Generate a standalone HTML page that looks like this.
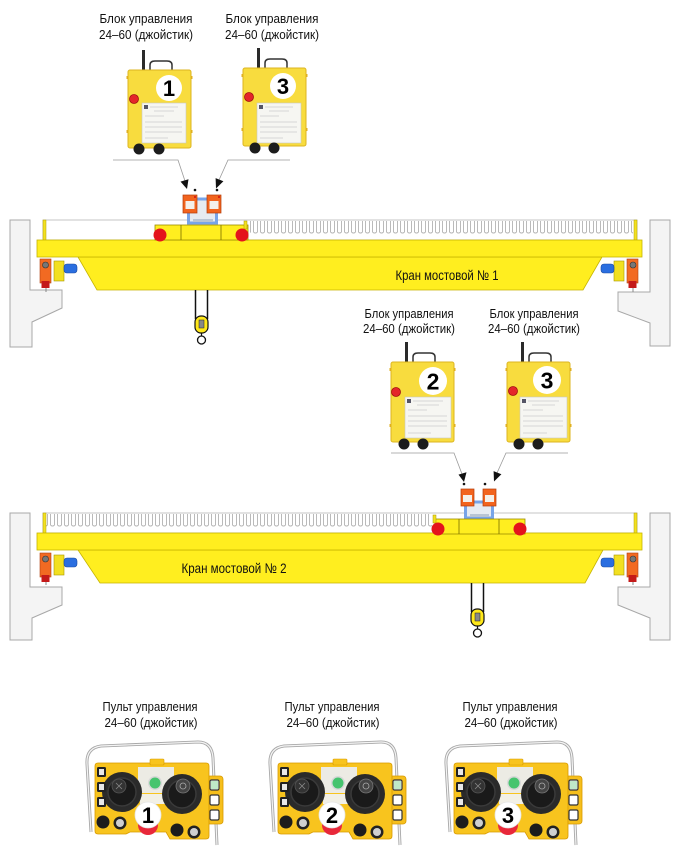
<!DOCTYPE html>
<html><head><meta charset="utf-8">
<style>
html,body{margin:0;padding:0;background:#fff;}
svg{display:block;}
text{font-family:"Liberation Sans Narrow","Liberation Sans","DejaVu Sans Condensed",sans-serif;}
.lbl{font-size:13px;fill:#111;}
.num{font-family:"Liberation Sans",sans-serif;font-weight:bold;fill:#000;}
</style></head><body>
<svg width="680" height="860" viewBox="0 0 680 860" xmlns="http://www.w3.org/2000/svg">
<defs>
<pattern id="comb" patternUnits="userSpaceOnUse" x="0" y="0" width="7" height="20">
  <path d="M1.5,1 V11 Q1.5,13 3.2,13 H3.8 Q5.5,13 5.5,11 V1" fill="none" stroke="#9c9c9c" stroke-width="0.7"/>
</pattern>
</defs>

<!-- ============ TOP LABELS ============ -->
<text class="lbl" x="146" y="23" text-anchor="middle" textLength="93" lengthAdjust="spacingAndGlyphs">Блок управления</text>
<text class="lbl" x="146" y="39" text-anchor="middle" textLength="94" lengthAdjust="spacingAndGlyphs">24–60 (джойстик)</text>
<text class="lbl" x="272" y="23" text-anchor="middle" textLength="93" lengthAdjust="spacingAndGlyphs">Блок управления</text>
<text class="lbl" x="272" y="39" text-anchor="middle" textLength="94" lengthAdjust="spacingAndGlyphs">24–60 (джойстик)</text>

<!-- ============ BOX 1 ============ -->
<g transform="translate(128,70)">
  <rect x="14" y="-20" width="3" height="20" fill="#2a2a2a"/>
  <path d="M22,0 V-5 Q22,-9 27,-9 H39 Q44,-9 44,-5 V0" fill="none" stroke="#333" stroke-width="1.5"/>
  <rect x="0" y="0" width="63" height="78" rx="2" fill="#f8dc3e" stroke="#dcb520" stroke-width="1"/>
  <rect x="-1.5" y="6" width="2" height="3" fill="#e0b020"/><rect x="-1.5" y="60" width="2" height="3" fill="#e0b020"/>
  <rect x="62.5" y="6" width="2" height="3" fill="#e0b020"/><rect x="62.5" y="60" width="2" height="3" fill="#e0b020"/>
  <circle cx="41" cy="18" r="13" fill="#fff"/>
  <text class="num" x="41" y="26" font-size="22" text-anchor="middle">1</text>
  <circle cx="6" cy="29" r="4.5" fill="#e4262a" stroke="#a01010" stroke-width="0.8"/>
  <rect x="14" y="33" width="44" height="40" fill="#f6f6f2" stroke="#c8c8c0" stroke-width="0.6"/>
  <rect x="16" y="35" width="4" height="4" fill="#556"/>
  <g stroke="#b8b8b8" stroke-width="0.6"><line x1="22" y1="37" x2="50" y2="37"/><line x1="26" y1="41" x2="46" y2="41"/><line x1="17" y1="46" x2="36" y2="46"/><line x1="17" y1="52" x2="54" y2="52"/><line x1="17" y1="57" x2="54" y2="57"/><line x1="17" y1="62" x2="54" y2="62"/><line x1="17" y1="68" x2="40" y2="68"/></g>
  <circle cx="11" cy="79" r="5.5" fill="#1c1c1c"/><circle cx="31" cy="79" r="5.5" fill="#1c1c1c"/>
</g>

<!-- ============ BOX 3 (top) ============ -->
<g transform="translate(243,68)">
  <rect x="14" y="-20" width="3" height="20" fill="#2a2a2a"/>
  <path d="M22,0 V-5 Q22,-9 27,-9 H39 Q44,-9 44,-5 V0" fill="none" stroke="#333" stroke-width="1.5"/>
  <rect x="0" y="0" width="63" height="78" rx="2" fill="#f8dc3e" stroke="#dcb520" stroke-width="1"/>
  <rect x="-1.5" y="6" width="2" height="3" fill="#e0b020"/><rect x="-1.5" y="60" width="2" height="3" fill="#e0b020"/>
  <rect x="62.5" y="6" width="2" height="3" fill="#e0b020"/><rect x="62.5" y="60" width="2" height="3" fill="#e0b020"/>
  <circle cx="40" cy="18" r="13" fill="#fff"/>
  <text class="num" x="40" y="26" font-size="22" text-anchor="middle">3</text>
  <circle cx="6" cy="29" r="4.5" fill="#e4262a" stroke="#a01010" stroke-width="0.8"/>
  <rect x="14" y="35" width="44" height="40" fill="#f6f6f2" stroke="#c8c8c0" stroke-width="0.6"/>
  <rect x="16" y="37" width="4" height="4" fill="#556"/>
  <g stroke="#b8b8b8" stroke-width="0.6"><line x1="22" y1="39" x2="50" y2="39"/><line x1="26" y1="43" x2="46" y2="43"/><line x1="17" y1="48" x2="36" y2="48"/><line x1="17" y1="54" x2="54" y2="54"/><line x1="17" y1="59" x2="54" y2="59"/><line x1="17" y1="64" x2="54" y2="64"/><line x1="17" y1="70" x2="40" y2="70"/></g>
  <circle cx="12" cy="80" r="5.5" fill="#1c1c1c"/><circle cx="31" cy="80" r="5.5" fill="#1c1c1c"/>
</g>

<!-- ============ CRANE 1 STRUCTURE ============ -->
<g>
  <path d="M10,220 H30 V290 H62 V308 L32,322 V347 H10 Z" fill="#f4f4f4" stroke="#a8a8a8" stroke-width="1"/>
  <path d="M670,220 H650 V292 H618 V311 L650,323 V346 H670 Z" fill="#f4f4f4" stroke="#a8a8a8" stroke-width="1"/>
  <rect x="43" y="220" width="594" height="20" fill="#fff" stroke="#b8b8b8" stroke-width="0.8"/>
  <rect x="250" y="220" width="383" height="20" fill="url(#comb)"/>
  <rect x="43" y="220" width="3" height="20" fill="#f2e020" stroke="#b0a000" stroke-width="0.5"/>
  <rect x="634" y="220" width="3" height="20" fill="#f2e020" stroke="#b0a000" stroke-width="0.5"/>
  <path d="M78,257 H602 L583,290 H97 Z" fill="#ffee1f" stroke="#c6b400" stroke-width="0.8"/>
  <rect x="37" y="240" width="605" height="17" fill="#ffee1f" stroke="#c6b400" stroke-width="0.8"/>
  <!-- left drive -->
  <line x1="46" y1="287" x2="46" y2="292" stroke="#888" stroke-width="1"/>
  <rect x="54" y="261" width="10" height="20" fill="#f2e020" stroke="#a89800" stroke-width="0.6"/>
  <rect x="64" y="264" width="13" height="9" rx="3" fill="#2a6ee0" stroke="#1a4aa0" stroke-width="0.6"/>
  <rect x="40" y="259" width="11" height="24" fill="#f26a22" stroke="#b04010" stroke-width="0.6"/>
  <rect x="41.5" y="281" width="8" height="7" fill="#c41a1a"/>
  <circle cx="45.5" cy="265" r="3" fill="#777" stroke="#333" stroke-width="0.6"/>
  <!-- right drive -->
  <line x1="633" y1="287" x2="633" y2="292" stroke="#888" stroke-width="1"/>
  <rect x="614" y="261" width="10" height="20" fill="#f2e020" stroke="#a89800" stroke-width="0.6"/>
  <rect x="601" y="264" width="13" height="9" rx="3" fill="#2a6ee0" stroke="#1a4aa0" stroke-width="0.6"/>
  <rect x="627" y="259" width="11" height="24" fill="#f26a22" stroke="#b04010" stroke-width="0.6"/>
  <rect x="628.5" y="281" width="8" height="7" fill="#c41a1a"/>
  <circle cx="633" cy="265" r="3" fill="#777" stroke="#333" stroke-width="0.6"/>
  <text x="447" y="280" text-anchor="middle" font-size="14" fill="#111" textLength="103" lengthAdjust="spacingAndGlyphs">Кран мостовой № 1</text>
</g>

<!-- ============ CRANE 1 TROLLEY + LEADERS ============ -->
<g>
  <!-- leaders -->
  <path d="M113,160 H178 L185,181" fill="none" stroke="#9a9a9a" stroke-width="0.8"/>
  <polygon points="180.5,181.6 188.5,179.2 187,189" fill="#111"/>
  <path d="M290,160 H228 L219,180" fill="none" stroke="#9a9a9a" stroke-width="0.8"/>
  <polygon points="215.6,178.1 223.4,181.3 216,188.5" fill="#111"/>
  <circle cx="195" cy="190" r="1.3" fill="#111"/>
  <circle cx="217" cy="190" r="1.3" fill="#111"/>
  <!-- hoist frame -->
  <rect x="188.5" y="199" width="28" height="24" fill="#e6ebf2" stroke="#78a4e8" stroke-width="3"/>
  <rect x="193" y="219" width="20" height="3" fill="#b8c4d4"/>
  <!-- orange boxes -->
  <rect x="183" y="195" width="14" height="18" fill="#f2641e" stroke="#b23a08" stroke-width="0.7"/>
  <rect x="185.5" y="201" width="9" height="8" fill="#f4f0ea"/>
  <circle cx="195" cy="197" r="1" fill="#d01010"/>
  <rect x="207" y="195" width="14" height="18" fill="#f2641e" stroke="#b23a08" stroke-width="0.7"/>
  <rect x="209.5" y="201" width="9" height="8" fill="#f4f0ea"/>
  <circle cx="219" cy="197" r="1" fill="#d01010"/>
  <!-- trolley -->
  <rect x="155" y="225" width="93" height="15" fill="#ffee1f" stroke="#9c8c00" stroke-width="0.8"/>
  <line x1="181" y1="225" x2="181" y2="240" stroke="#7a6e00" stroke-width="0.8"/>
  <line x1="221" y1="225" x2="221" y2="240" stroke="#7a6e00" stroke-width="0.8"/>
  <rect x="244" y="221" width="3" height="8" fill="#f2e020" stroke="#a89800" stroke-width="0.5"/>
  <circle cx="160" cy="235" r="6.5" fill="#e4141c"/>
  <circle cx="242" cy="235" r="6.5" fill="#e4141c"/>
  <!-- hook -->
  <line x1="195.5" y1="290" x2="195.5" y2="319" stroke="#111" stroke-width="1.5"/>
  <line x1="207.5" y1="290" x2="207.5" y2="319" stroke="#111" stroke-width="1.5"/>
  <rect x="195" y="316" width="13" height="17" rx="6" fill="#ffe81a" stroke="#111" stroke-width="1.2"/>
  <rect x="199" y="320" width="5" height="8" fill="#888" stroke="#222" stroke-width="0.5"/>
  <line x1="201.5" y1="333" x2="201.5" y2="336" stroke="#111" stroke-width="1.2"/>
  <circle cx="201.5" cy="340" r="4" fill="none" stroke="#111" stroke-width="1.3"/>
</g>

<!-- ============ CRANE 2 LABELS ============ -->
<text class="lbl" x="409" y="318" text-anchor="middle" textLength="89" lengthAdjust="spacingAndGlyphs">Блок управления</text>
<text class="lbl" x="409" y="333" text-anchor="middle" textLength="92" lengthAdjust="spacingAndGlyphs">24–60 (джойстик)</text>
<text class="lbl" x="534" y="318" text-anchor="middle" textLength="89" lengthAdjust="spacingAndGlyphs">Блок управления</text>
<text class="lbl" x="534" y="333" text-anchor="middle" textLength="92" lengthAdjust="spacingAndGlyphs">24–60 (джойстик)</text>

<!-- ============ BOX 2 ============ -->
<g transform="translate(391,362)">
  <rect x="14" y="-20" width="3" height="20" fill="#2a2a2a"/>
  <path d="M22,0 V-5 Q22,-9 27,-9 H39 Q44,-9 44,-5 V0" fill="none" stroke="#333" stroke-width="1.5"/>
  <rect x="0" y="0" width="63" height="80" rx="2" fill="#f8dc3e" stroke="#dcb520" stroke-width="1"/>
  <rect x="-1.5" y="6" width="2" height="3" fill="#e0b020"/><rect x="-1.5" y="62" width="2" height="3" fill="#e0b020"/>
  <rect x="62.5" y="6" width="2" height="3" fill="#e0b020"/><rect x="62.5" y="62" width="2" height="3" fill="#e0b020"/>
  <circle cx="42" cy="19" r="14" fill="#fff"/>
  <text class="num" x="42" y="27.5" font-size="23" text-anchor="middle">2</text>
  <circle cx="5" cy="30" r="4.5" fill="#e4262a" stroke="#a01010" stroke-width="0.8"/>
  <rect x="14" y="35" width="46" height="41" fill="#f6f6f2" stroke="#c8c8c0" stroke-width="0.6"/>
  <rect x="16" y="37" width="4" height="4" fill="#556"/>
  <g stroke="#b8b8b8" stroke-width="0.6"><line x1="22" y1="39" x2="52" y2="39"/><line x1="26" y1="43" x2="48" y2="43"/><line x1="17" y1="48" x2="36" y2="48"/><line x1="17" y1="54" x2="56" y2="54"/><line x1="17" y1="59" x2="56" y2="59"/><line x1="17" y1="64" x2="56" y2="64"/><line x1="17" y1="71" x2="40" y2="71"/></g>
  <circle cx="13" cy="82" r="5.5" fill="#1c1c1c"/><circle cx="32" cy="82" r="5.5" fill="#1c1c1c"/>
</g>

<!-- ============ BOX 3 (second) ============ -->
<g transform="translate(507,362)">
  <rect x="14" y="-20" width="3" height="20" fill="#2a2a2a"/>
  <path d="M22,0 V-5 Q22,-9 27,-9 H39 Q44,-9 44,-5 V0" fill="none" stroke="#333" stroke-width="1.5"/>
  <rect x="0" y="0" width="63" height="80" rx="2" fill="#f8dc3e" stroke="#dcb520" stroke-width="1"/>
  <rect x="-1.5" y="6" width="2" height="3" fill="#e0b020"/><rect x="-1.5" y="62" width="2" height="3" fill="#e0b020"/>
  <rect x="62.5" y="6" width="2" height="3" fill="#e0b020"/><rect x="62.5" y="62" width="2" height="3" fill="#e0b020"/>
  <circle cx="40" cy="18" r="14" fill="#fff"/>
  <text class="num" x="40" y="26.5" font-size="23" text-anchor="middle">3</text>
  <circle cx="6" cy="29" r="4.5" fill="#e4262a" stroke="#a01010" stroke-width="0.8"/>
  <rect x="13" y="35" width="47" height="41" fill="#f6f6f2" stroke="#c8c8c0" stroke-width="0.6"/>
  <rect x="15" y="37" width="4" height="4" fill="#556"/>
  <g stroke="#b8b8b8" stroke-width="0.6"><line x1="21" y1="39" x2="52" y2="39"/><line x1="25" y1="43" x2="48" y2="43"/><line x1="16" y1="48" x2="36" y2="48"/><line x1="16" y1="54" x2="56" y2="54"/><line x1="16" y1="59" x2="56" y2="59"/><line x1="16" y1="64" x2="56" y2="64"/><line x1="16" y1="71" x2="40" y2="71"/></g>
  <circle cx="12" cy="82" r="5.5" fill="#1c1c1c"/><circle cx="31" cy="82" r="5.5" fill="#1c1c1c"/>
</g>

<!-- ============ CRANE 2 STRUCTURE ============ -->
<g transform="translate(0,293)">
  <path d="M10,220 H30 V294 H62 V312 L32,325 V347 H10 Z" fill="#f4f4f4" stroke="#a8a8a8" stroke-width="1"/>
  <path d="M670,220 H650 V294 H618 V312 L650,325 V347 H670 Z" fill="#f4f4f4" stroke="#a8a8a8" stroke-width="1"/>
  <rect x="43" y="220" width="594" height="20" fill="#fff" stroke="#b8b8b8" stroke-width="0.8"/>
  <rect x="46" y="220" width="386" height="20" fill="url(#comb)"/>
  <rect x="43" y="220" width="3" height="20" fill="#f2e020" stroke="#b0a000" stroke-width="0.5"/>
  <rect x="634" y="220" width="3" height="20" fill="#f2e020" stroke="#b0a000" stroke-width="0.5"/>
  <path d="M78,257 H603 L585,290 H100 Z" fill="#ffee1f" stroke="#c6b400" stroke-width="0.8"/>
  <rect x="37" y="240" width="605" height="17" fill="#ffee1f" stroke="#c6b400" stroke-width="0.8"/>
  <line x1="46" y1="287" x2="46" y2="292" stroke="#888" stroke-width="1"/>
  <rect x="54" y="262" width="10" height="20" fill="#f2e020" stroke="#a89800" stroke-width="0.6"/>
  <rect x="64" y="265" width="13" height="9" rx="3" fill="#2a6ee0" stroke="#1a4aa0" stroke-width="0.6"/>
  <rect x="40" y="260" width="11" height="24" fill="#f26a22" stroke="#b04010" stroke-width="0.6"/>
  <rect x="41.5" y="282" width="8" height="7" fill="#c41a1a"/>
  <circle cx="45.5" cy="266" r="3" fill="#777" stroke="#333" stroke-width="0.6"/>
  <line x1="633" y1="287" x2="633" y2="292" stroke="#888" stroke-width="1"/>
  <rect x="614" y="262" width="10" height="20" fill="#f2e020" stroke="#a89800" stroke-width="0.6"/>
  <rect x="601" y="265" width="13" height="9" rx="3" fill="#2a6ee0" stroke="#1a4aa0" stroke-width="0.6"/>
  <rect x="627" y="260" width="11" height="24" fill="#f26a22" stroke="#b04010" stroke-width="0.6"/>
  <rect x="628.5" y="282" width="8" height="7" fill="#c41a1a"/>
  <circle cx="633" cy="266" r="3" fill="#777" stroke="#333" stroke-width="0.6"/>
  <text x="234" y="280" text-anchor="middle" font-size="14" fill="#111" textLength="105" lengthAdjust="spacingAndGlyphs">Кран мостовой № 2</text>
</g>

<!-- ============ CRANE 2 TROLLEY + LEADERS ============ -->
<g transform="translate(278,293)">
  <path d="M113,160 H176 L184,181" fill="none" stroke="#9a9a9a" stroke-width="0.8"/>
  <polygon points="180.5,181.6 188.5,179.2 186,189" fill="#111"/>
  <path d="M290,160 H228 L219,180" fill="none" stroke="#9a9a9a" stroke-width="0.8"/>
  <polygon points="215.6,178.1 223.4,181.3 216,188.5" fill="#111"/>
  <circle cx="186" cy="191" r="1.3" fill="#111"/>
  <circle cx="207" cy="191" r="1.3" fill="#111"/>
  <rect x="187.5" y="209" width="27" height="16" fill="#e6ebf2" stroke="#78a4e8" stroke-width="3"/>
  <rect x="192" y="221" width="19" height="3" fill="#b8c4d4"/>
  <rect x="183" y="196" width="13" height="17" fill="#f2641e" stroke="#b23a08" stroke-width="0.7"/>
  <rect x="185" y="202" width="9" height="7" fill="#f4f0ea"/>
  <rect x="205" y="196" width="13" height="17" fill="#f2641e" stroke="#b23a08" stroke-width="0.7"/>
  <rect x="207" y="202" width="9" height="7" fill="#f4f0ea"/>
  <rect x="157" y="226" width="90" height="15" fill="#ffee1f" stroke="#9c8c00" stroke-width="0.8"/>
  <line x1="181" y1="226" x2="181" y2="241" stroke="#7a6e00" stroke-width="0.8"/>
  <line x1="221" y1="226" x2="221" y2="241" stroke="#7a6e00" stroke-width="0.8"/>
  <rect x="155" y="222" width="3" height="8" fill="#f2e020" stroke="#a89800" stroke-width="0.5"/>
  <circle cx="160" cy="236" r="6.5" fill="#e4141c"/>
  <circle cx="242" cy="236" r="6.5" fill="#e4141c"/>
  <line x1="193.5" y1="290" x2="193.5" y2="319" stroke="#111" stroke-width="1.5"/>
  <line x1="205.5" y1="290" x2="205.5" y2="319" stroke="#111" stroke-width="1.5"/>
  <rect x="193" y="316" width="13" height="17" rx="6" fill="#ffe81a" stroke="#111" stroke-width="1.2"/>
  <rect x="197" y="320" width="5" height="8" fill="#888" stroke="#222" stroke-width="0.5"/>
  <line x1="199.5" y1="333" x2="199.5" y2="336" stroke="#111" stroke-width="1.2"/>
  <circle cx="199.5" cy="340" r="4" fill="none" stroke="#111" stroke-width="1.3"/>
</g>

<!-- ============ PENDANT LABELS ============ -->
<text class="lbl" x="150" y="711" text-anchor="middle" textLength="95" lengthAdjust="spacingAndGlyphs">Пульт управления</text>
<text class="lbl" x="151" y="727" text-anchor="middle" textLength="93" lengthAdjust="spacingAndGlyphs">24–60 (джойстик)</text>
<text class="lbl" x="332" y="711" text-anchor="middle" textLength="95" lengthAdjust="spacingAndGlyphs">Пульт управления</text>
<text class="lbl" x="333" y="727" text-anchor="middle" textLength="93" lengthAdjust="spacingAndGlyphs">24–60 (джойстик)</text>
<text class="lbl" x="510" y="711" text-anchor="middle" textLength="95" lengthAdjust="spacingAndGlyphs">Пульт управления</text>
<text class="lbl" x="511" y="727" text-anchor="middle" textLength="93" lengthAdjust="spacingAndGlyphs">24–60 (джойстик)</text>

<!-- ============ PENDANT 1 ============ -->
<g id="p1">
  <path d="M91,832 L87,764 Q86,748 101,746 L198,742 Q212,742 213,758 L217,845" fill="none" stroke="#a8a8a8" stroke-width="3"/>
  <path d="M91,832 L87,764 Q86,748 101,746 L198,742 Q212,742 213,758 L217,845" fill="none" stroke="#f4f4f4" stroke-width="1.2"/>
  <rect x="205" y="776" width="18" height="48" rx="3" fill="#f6bf1c" stroke="#d89a00" stroke-width="0.8"/>
  <path d="M98,763 H206 Q209,763 209,766 V836 Q209,839 206,839 H170 L166,832 H130 L126,834 H98 Q95,834 95,831 V766 Q95,763 98,763 Z" fill="#f8c41e" stroke="#d89a00" stroke-width="0.8"/>
  <rect x="150" y="759" width="14" height="6" rx="1" fill="#f8c41e" stroke="#d89a00" stroke-width="0.6"/>
  <rect x="138" y="767" width="36" height="26" fill="#ecebe4"/>
  <rect x="140" y="794" width="30" height="10" fill="#f2f0e6"/>
  <circle cx="122" cy="792" r="20" fill="#2a2a2a"/>
  <circle cx="122" cy="792" r="14" fill="#1a1a1a" stroke="#3a3a3a" stroke-width="1.5"/>
  <circle cx="119" cy="786" r="7" fill="#333" stroke="#555" stroke-width="0.8"/>
  <path d="M116,783 L122,789 M122,783 L116,789" stroke="#888" stroke-width="0.8"/>
  <circle cx="182" cy="794" r="20" fill="#2a2a2a"/>
  <circle cx="182" cy="794" r="14" fill="#1a1a1a" stroke="#3a3a3a" stroke-width="1.5"/>
  <circle cx="183" cy="786" r="7" fill="#444" stroke="#777" stroke-width="0.8"/>
  <circle cx="183" cy="786" r="3" fill="none" stroke="#aaa" stroke-width="0.8"/>
  <circle cx="155" cy="783" r="7" fill="#d8d8d8"/>
  <circle cx="155" cy="783" r="5.5" fill="#46c46e"/>
  <g fill="#222"><rect x="97" y="767" width="9" height="10" rx="1.5"/><rect x="97" y="782" width="9" height="10" rx="1.5"/><rect x="97" y="797" width="9" height="10" rx="1.5"/></g>
  <g fill="#e8e8e8"><rect x="99" y="769" width="5" height="6"/><rect x="99" y="784" width="5" height="6"/><rect x="99" y="799" width="5" height="6"/></g>
  <g fill="#fff" stroke="#333" stroke-width="1.2"><rect x="210" y="780" width="9" height="10" rx="1.5"/><rect x="210" y="795" width="9" height="10" rx="1.5"/><rect x="210" y="810" width="9" height="10" rx="1.5"/></g>
  <rect x="211" y="781" width="7" height="8" fill="#bfe8c8"/>
  <circle cx="103" cy="822" r="6.5" fill="#1c1c1c"/>
  <circle cx="120" cy="823" r="6.5" fill="#222"/><circle cx="120" cy="823" r="4" fill="#cfcfcf"/>
  <circle cx="177" cy="830" r="6.5" fill="#1c1c1c"/>
  <circle cx="194" cy="832" r="6.5" fill="#222"/><circle cx="194" cy="832" r="4" fill="#cfcfcf"/>
  <circle cx="148" cy="825" r="10" fill="#e8283a"/>
  <circle cx="148" cy="815" r="13" fill="#fff" stroke="#e6e6e6" stroke-width="0.8"/>
  <text class="num" x="148" y="823" font-size="22" text-anchor="middle">1</text>
</g>

<!-- ============ PENDANT 2 ============ -->
<g transform="translate(183,0)">
  <path d="M91,832 L87,764 Q86,748 101,746 L198,742 Q212,742 213,758 L217,845" fill="none" stroke="#a8a8a8" stroke-width="3"/>
  <path d="M91,832 L87,764 Q86,748 101,746 L198,742 Q212,742 213,758 L217,845" fill="none" stroke="#f4f4f4" stroke-width="1.2"/>
  <rect x="205" y="776" width="18" height="48" rx="3" fill="#f6bf1c" stroke="#d89a00" stroke-width="0.8"/>
  <path d="M98,763 H206 Q209,763 209,766 V836 Q209,839 206,839 H170 L166,832 H130 L126,834 H98 Q95,834 95,831 V766 Q95,763 98,763 Z" fill="#f8c41e" stroke="#d89a00" stroke-width="0.8"/>
  <rect x="150" y="759" width="14" height="6" rx="1" fill="#f8c41e" stroke="#d89a00" stroke-width="0.6"/>
  <rect x="138" y="767" width="36" height="26" fill="#ecebe4"/>
  <rect x="140" y="794" width="30" height="10" fill="#f2f0e6"/>
  <circle cx="122" cy="792" r="20" fill="#2a2a2a"/>
  <circle cx="122" cy="792" r="14" fill="#1a1a1a" stroke="#3a3a3a" stroke-width="1.5"/>
  <circle cx="119" cy="786" r="7" fill="#333" stroke="#555" stroke-width="0.8"/>
  <path d="M116,783 L122,789 M122,783 L116,789" stroke="#888" stroke-width="0.8"/>
  <circle cx="182" cy="794" r="20" fill="#2a2a2a"/>
  <circle cx="182" cy="794" r="14" fill="#1a1a1a" stroke="#3a3a3a" stroke-width="1.5"/>
  <circle cx="183" cy="786" r="7" fill="#444" stroke="#777" stroke-width="0.8"/>
  <circle cx="183" cy="786" r="3" fill="none" stroke="#aaa" stroke-width="0.8"/>
  <circle cx="155" cy="783" r="7" fill="#d8d8d8"/>
  <circle cx="155" cy="783" r="5.5" fill="#46c46e"/>
  <g fill="#222"><rect x="97" y="767" width="9" height="10" rx="1.5"/><rect x="97" y="782" width="9" height="10" rx="1.5"/><rect x="97" y="797" width="9" height="10" rx="1.5"/></g>
  <g fill="#e8e8e8"><rect x="99" y="769" width="5" height="6"/><rect x="99" y="784" width="5" height="6"/><rect x="99" y="799" width="5" height="6"/></g>
  <g fill="#fff" stroke="#333" stroke-width="1.2"><rect x="210" y="780" width="9" height="10" rx="1.5"/><rect x="210" y="795" width="9" height="10" rx="1.5"/><rect x="210" y="810" width="9" height="10" rx="1.5"/></g>
  <rect x="211" y="781" width="7" height="8" fill="#bfe8c8"/>
  <circle cx="103" cy="822" r="6.5" fill="#1c1c1c"/>
  <circle cx="120" cy="823" r="6.5" fill="#222"/><circle cx="120" cy="823" r="4" fill="#cfcfcf"/>
  <circle cx="177" cy="830" r="6.5" fill="#1c1c1c"/>
  <circle cx="194" cy="832" r="6.5" fill="#222"/><circle cx="194" cy="832" r="4" fill="#cfcfcf"/>
  <circle cx="149" cy="825" r="10" fill="#e8283a"/>
  <circle cx="149" cy="815" r="13" fill="#fff" stroke="#e6e6e6" stroke-width="0.8"/>
  <text class="num" x="149" y="823" font-size="22" text-anchor="middle">2</text>
</g>

<!-- ============ PENDANT 3 ============ -->
<g transform="translate(359,0)">
  <path d="M91,832 L87,764 Q86,748 101,746 L198,742 Q212,742 213,758 L217,845" fill="none" stroke="#a8a8a8" stroke-width="3"/>
  <path d="M91,832 L87,764 Q86,748 101,746 L198,742 Q212,742 213,758 L217,845" fill="none" stroke="#f4f4f4" stroke-width="1.2"/>
  <rect x="205" y="776" width="18" height="48" rx="3" fill="#f6bf1c" stroke="#d89a00" stroke-width="0.8"/>
  <path d="M98,763 H206 Q209,763 209,766 V836 Q209,839 206,839 H170 L166,832 H130 L126,834 H98 Q95,834 95,831 V766 Q95,763 98,763 Z" fill="#f8c41e" stroke="#d89a00" stroke-width="0.8"/>
  <rect x="150" y="759" width="14" height="6" rx="1" fill="#f8c41e" stroke="#d89a00" stroke-width="0.6"/>
  <rect x="138" y="767" width="36" height="26" fill="#ecebe4"/>
  <rect x="140" y="794" width="30" height="10" fill="#f2f0e6"/>
  <circle cx="122" cy="792" r="20" fill="#2a2a2a"/>
  <circle cx="122" cy="792" r="14" fill="#1a1a1a" stroke="#3a3a3a" stroke-width="1.5"/>
  <circle cx="119" cy="786" r="7" fill="#333" stroke="#555" stroke-width="0.8"/>
  <path d="M116,783 L122,789 M122,783 L116,789" stroke="#888" stroke-width="0.8"/>
  <circle cx="182" cy="794" r="20" fill="#2a2a2a"/>
  <circle cx="182" cy="794" r="14" fill="#1a1a1a" stroke="#3a3a3a" stroke-width="1.5"/>
  <circle cx="183" cy="786" r="7" fill="#444" stroke="#777" stroke-width="0.8"/>
  <circle cx="183" cy="786" r="3" fill="none" stroke="#aaa" stroke-width="0.8"/>
  <circle cx="155" cy="783" r="7" fill="#d8d8d8"/>
  <circle cx="155" cy="783" r="5.5" fill="#46c46e"/>
  <g fill="#222"><rect x="97" y="767" width="9" height="10" rx="1.5"/><rect x="97" y="782" width="9" height="10" rx="1.5"/><rect x="97" y="797" width="9" height="10" rx="1.5"/></g>
  <g fill="#e8e8e8"><rect x="99" y="769" width="5" height="6"/><rect x="99" y="784" width="5" height="6"/><rect x="99" y="799" width="5" height="6"/></g>
  <g fill="#fff" stroke="#333" stroke-width="1.2"><rect x="210" y="780" width="9" height="10" rx="1.5"/><rect x="210" y="795" width="9" height="10" rx="1.5"/><rect x="210" y="810" width="9" height="10" rx="1.5"/></g>
  <rect x="211" y="781" width="7" height="8" fill="#bfe8c8"/>
  <circle cx="103" cy="822" r="6.5" fill="#1c1c1c"/>
  <circle cx="120" cy="823" r="6.5" fill="#222"/><circle cx="120" cy="823" r="4" fill="#cfcfcf"/>
  <circle cx="177" cy="830" r="6.5" fill="#1c1c1c"/>
  <circle cx="194" cy="832" r="6.5" fill="#222"/><circle cx="194" cy="832" r="4" fill="#cfcfcf"/>
  <circle cx="149" cy="825" r="10" fill="#e8283a"/>
  <circle cx="149" cy="815" r="13" fill="#fff" stroke="#e6e6e6" stroke-width="0.8"/>
  <text class="num" x="149" y="823" font-size="22" text-anchor="middle">3</text>
</g>

</svg>
</body></html>
